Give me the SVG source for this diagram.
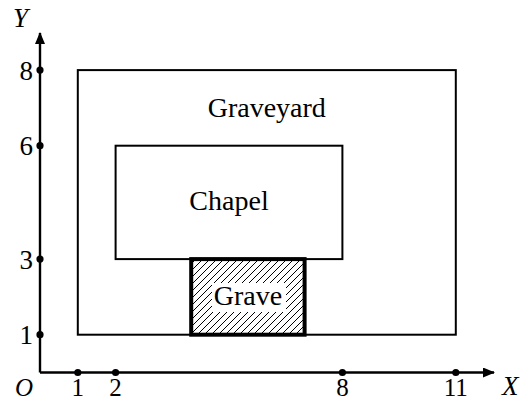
<svg xmlns="http://www.w3.org/2000/svg" width="523" height="401" viewBox="0 0 523 401">
<defs>
<style>
.t{font-family:"Liberation Serif","DejaVu Serif","Noto Serif",serif;font-size:28px;fill:#000}
.n{font-size:27px}
.b{font-size:25px}
.i{font-style:italic}
.box{fill:none;stroke:#000;stroke-width:2}
.ax{stroke:#000;stroke-width:2.4;fill:none}
.dot{fill:#000}
</style>
<pattern id="hatch" patternUnits="userSpaceOnUse" width="7" height="7">
<path d="M-1.75,1.75 L1.75,-1.75 M0,7 L7,0 M5.25,8.75 L8.75,5.25" stroke="#000" stroke-width="1"/>
</pattern>
<marker id="arr" viewBox="0 0 12 10" refX="11" refY="5" markerWidth="12" markerHeight="10" markerUnits="userSpaceOnUse" orient="auto">
<path d="M0,0 L12,5 L0,10 Z" fill="#000"/>
</marker>
</defs>
<rect width="523" height="401" fill="#fff"/>
<g id="axes">
<line class="ax" x1="40" y1="372.5" x2="494" y2="372.5" marker-end="url(#arr)"/>
<line class="ax" x1="40" y1="372.5" x2="40" y2="33" marker-end="url(#arr)"/>
<circle class="dot" cx="77.8" cy="372.5" r="3.6"/>
<circle class="dot" cx="115.6" cy="372.5" r="3.6"/>
<circle class="dot" cx="342.4" cy="372.5" r="3.6"/>
<circle class="dot" cx="455.8" cy="372.5" r="3.6"/>
<circle class="dot" cx="40" cy="334.7" r="3.6"/>
<circle class="dot" cx="40" cy="259.1" r="3.6"/>
<circle class="dot" cx="40" cy="145.7" r="3.6"/>
<circle class="dot" cx="40" cy="70.1" r="3.6"/>
<text class="t n i" x="13" y="27">Y</text>
<text class="t n i" x="502" y="395">X</text>
<text class="t b i" x="15" y="396">O</text>
<text class="t n" x="33" y="80" text-anchor="end">8</text>
<text class="t n" x="33" y="155" text-anchor="end">6</text>
<text class="t n" x="33" y="269" text-anchor="end">3</text>
<text class="t n" x="33" y="344" text-anchor="end">1</text>
<text class="t b" x="77.8" y="396" text-anchor="middle">1</text>
<text class="t b" x="115.6" y="396" text-anchor="middle">2</text>
<text class="t b" x="342.4" y="396" text-anchor="middle">8</text>
<text class="t b" x="455.8" y="396" text-anchor="middle">11</text>
</g>
<g id="graveyard">
<rect class="box" x="77.8" y="70.1" width="378" height="264.6"/>
<text class="t" x="266.8" y="117" text-anchor="middle">Graveyard</text>
</g>
<g id="chapel">
<rect class="box" x="115.6" y="145.7" width="226.8" height="113.4"/>
<text class="t" x="229" y="210" text-anchor="middle">Chapel</text>
</g>
<g id="grave">
<rect x="191.2" y="259.1" width="113.4" height="75.6" fill="url(#hatch)" stroke="#000" stroke-width="4"/>
<rect x="212" y="283" width="74" height="29" fill="#fff"/>
<text class="t" x="248" y="305" text-anchor="middle">Grave</text>
</g>
<g id="connectors"></g>
</svg>
